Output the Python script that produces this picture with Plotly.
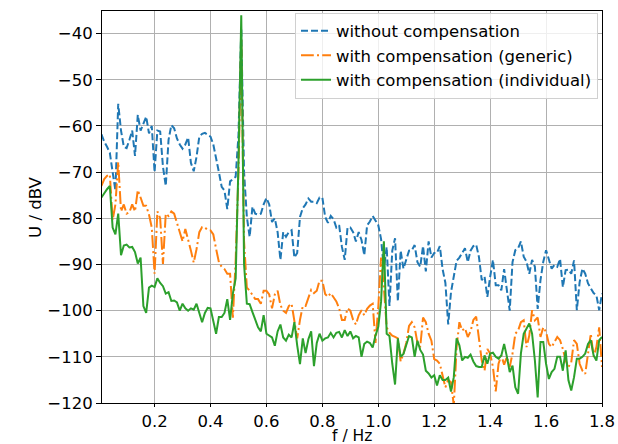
import plotly.graph_objects as go

# frequency grid (Hz), uniform 0.01 Hz bins
freq = [round(0.01 * i, 2) for i in range(1, 181)]

u_without = [
    -61.8, -63.4, -64.5, -65.8, -70, -74, -55.2, -61, -64.5, -64.8,
    -63, -61, -66.5, -57.6, -61, -59.6, -58, -61.6, -60, -70,
    -61, -61.2, -68.8, -73, -63, -59.8, -60.5, -62.7, -64, -64.9,
    -64, -62.5, -68, -69.8, -66.7, -62.3, -61.7, -61.5, -62, -62.3,
    -64, -66.7, -70, -73.2, -74, -78, -72, -71.5, -71, -62,
    -39, -70, -79.7, -84, -77.5, -79, -79.2, -79, -77, -75.6,
    -77, -80.8, -80, -83, -89, -83, -84, -83, -82.6, -88.5,
    -87.5, -79.7, -77.8, -77, -75.7, -76.4, -76.4, -76.7, -75.5, -75.5,
    -79.7, -81, -79.5, -80.2, -82, -81.5, -86.2, -89, -82, -82,
    -83, -85, -83, -84.7, -88, -81.5, -80.7, -79.5, -80.5, -81.5,
    -84.5, -91, -86.2, -99, -87, -84.3, -98, -87, -90.9, -88.8,
    -87, -86.9, -85.8, -89.5, -90.5, -86, -91.5, -85, -88.5, -87.5,
    -87.5, -86, -91, -94, -103, -96, -92.5, -89.2, -88.5, -87.5,
    -86.5, -89.5, -87, -86, -85.7, -88.4, -93.4, -92.6, -97, -92.7,
    -89, -94.5, -94.5, -95.6, -91, -95.6, -100, -89.5, -86.9, -86.5,
    -85, -88.3, -89.4, -92, -89, -90.5, -99.6, -93.4, -89.4, -86.9,
    -88.7, -90.9, -90.1, -90.5, -88.8, -94.9, -91.2, -91.1, -92, -89.1,
    -99.9, -93.8, -90.9, -92, -94.1, -95.2, -96.2, -96.7, -99.9, -96.3,
]

u_generic = [
    -73, -71.5, -70.8, -70.5, -80.4, -77, -67.8, -78.5, -77, -79,
    -78.7, -77, -78.5, -73.9, -75.5, -77.3, -77.3, -79.2, -82, -92,
    -78.5, -80, -89.9, -79, -79.5, -78.5, -79, -81, -83, -85,
    -82.3, -84.5, -87, -89.6, -86.7, -83, -81.9, -82, -82.5, -82.6,
    -83.5, -86.6, -89.5, -90.5, -91, -92, -92, -101.5, -89, -70,
    -41, -85, -95, -95.7, -96.5, -97.5, -97.5, -98.5, -95.7, -95.7,
    -96.5, -99.5, -96.5, -95.7, -98.8, -100, -100.5, -99, -98.5, -102,
    -106, -102, -99, -99, -97, -95.5, -96.2, -95.7, -93.5, -93.5,
    -96.4, -97, -96.2, -97, -98, -99.5, -102, -102, -99.5, -100,
    -102, -103, -101, -99.9, -101, -99.6, -98.9, -98.5, -107, -99.2,
    -88.5, -95, -103.6, -104.8, -105.4, -105.7, -106, -111, -109.3, -107,
    -103.3, -102.5, -103.6, -107, -107.9, -101.5, -102.5, -105, -106.5, -110.5,
    -110.8, -111.5, -114, -116.6, -115, -115.5, -120.5, -108, -102.5, -104.3,
    -103.8, -105.7, -104.5, -102, -101.3, -105.5, -110.8, -113, -108.3, -109.3,
    -112.2, -117.5, -111.5, -109.7, -111.7, -110, -112.2, -109.3, -105, -104.3,
    -102.5, -102.1, -107.9, -105.4, -99.9, -102.1, -101.5, -105.7, -103.6, -104.6,
    -107.2, -107.9, -106.8, -105.7, -106.4, -108.3, -110.8, -112.2, -111.2, -106.4,
    -107.2, -111.5, -113, -113.7, -109.3, -105, -110, -107.9, -103.6, -112.2,
]

u_individual = [
    -75.5, -74.5, -73.7, -73, -82, -83.5, -79, -88, -85.9, -85.7,
    -86.3, -86.2, -87.3, -89.8, -88.5, -99, -100.5, -95, -94.6, -94.9,
    -93, -94, -94.7, -96.3, -96, -97.9, -97.8, -98.2, -100, -98.5,
    -99.5, -100, -99.5, -99.8, -98.5, -100.5, -102.5, -100.5, -99.4, -99.5,
    -102, -105, -101.4, -101.4, -100.5, -97.5, -102, -96.3, -93, -68,
    -36, -90, -98.5, -98.6, -100.3, -102, -103.6, -104.5, -101, -105,
    -105.4, -105.8, -107.6, -104.5, -103, -105.8, -106.5, -105.2, -105.8, -102.5,
    -107.5, -111.6, -106, -109.2, -106.2, -104.5, -112, -107, -105, -106.5,
    -106, -105.8, -104.8, -105.8, -104.8, -104.6, -105.8, -104.2, -105.5, -104.5,
    -106, -105.5, -105.8, -110, -107.2, -106.7, -107, -108, -105.4, -103.5,
    -98, -85, -105, -105.5, -111.5, -116, -106, -110, -109.4, -107.3,
    -105.5, -105.8, -110, -106.5, -108.5, -109.5, -113, -113.6, -114.5, -114,
    -116.2, -114, -115, -115, -114.5, -117.5, -114.4, -106, -107.5, -110.8,
    -110, -110.2, -109.5, -111, -112, -112.2, -112.2, -109.7, -111.5, -109.3,
    -109.1, -110, -110.4, -109.7, -107.2, -110, -113.3, -111.9, -116.6, -118,
    -109.3, -105, -103.9, -102.8, -105, -110.8, -118.8, -106.8, -106.8, -111.5,
    -114.8, -113.3, -112.6, -110, -110, -113, -108.6, -115.1, -117.3, -114.4,
    -110.4, -110.4, -110, -109.3, -107.2, -106.4, -109.7, -110.8, -106.4, -105.7,
]

names = [
    "without compensation",
    "with compensation (generic)",
    "with compensation (individual)",
]
x_ticks = [0.2, 0.4, 0.6, 0.8, 1.0, 1.2, 1.4, 1.6, 1.8]
y_ticks = [-40, -50, -60, -70, -80, -90, -100, -110, -120]
x_title = "f / Hz"
y_title = "U / dBV"

FONT = "DejaVu Sans"
FS = 16.5
fig = go.Figure()
fig.add_trace(go.Scatter(x=freq, y=u_without, mode="lines", name=names[0],
                         line=dict(color="#1f77b4", width=2, dash="7px,3px")))
fig.add_trace(go.Scatter(x=freq, y=u_generic, mode="lines", name=names[1],
                         line=dict(color="#ff7f0e", width=2, dash="12.8px,3.2px,2px,3.2px")))
fig.add_trace(go.Scatter(x=freq, y=u_individual, mode="lines", name=names[2],
                         line=dict(color="#2ca02c", width=2)))

axis_common = dict(
    showgrid=True, gridcolor="#b0b0b0", gridwidth=1,
    showline=True, linecolor="black", linewidth=1, mirror=True,
    ticks="outside", tickcolor="black", tickwidth=1,
    zeroline=False, automargin=False,
    tickfont=dict(family=FONT, size=FS, color="black"),
)

fig.update_xaxes(range=[0.012, 1.8], tickvals=x_ticks, ticklen=3,
                 ticktext=[f"{v:.1f}" for v in x_ticks], **axis_common)
fig.update_yaxes(range=[-120, -35.1], tickvals=y_ticks, ticklen=5,
                 ticktext=["\u2212" + str(-v) for v in y_ticks], **axis_common)

fig.add_annotation(text=x_title, xref="paper", yref="paper", x=0.4995, y=-0.0845,
                   xanchor="center", yanchor="middle", showarrow=False, borderpad=0,
                   font=dict(family=FONT, size=15.5, color="black"))
fig.add_annotation(text=y_title, xref="paper", yref="paper", x=-0.1342, y=0.5,
                   xanchor="center", yanchor="middle", showarrow=False, textangle=-90,
                   font=dict(family=FONT, size=FS, color="black"))

fig.update_layout(
    width=618, height=444,
    margin=dict(l=102, r=16, t=11, b=41),
    paper_bgcolor="white", plot_bgcolor="white",
    font=dict(family=FONT, size=FS, color="black"),
    showlegend=True,
    legend=dict(x=0.992, y=0.996, xanchor="right", yanchor="top",
                bgcolor="rgba(255,255,255,0.8)", bordercolor="#d0d0d0", borderwidth=1,
                font=dict(family=FONT, size=FS, color="black")),
)

fig.write_html("out.html")
